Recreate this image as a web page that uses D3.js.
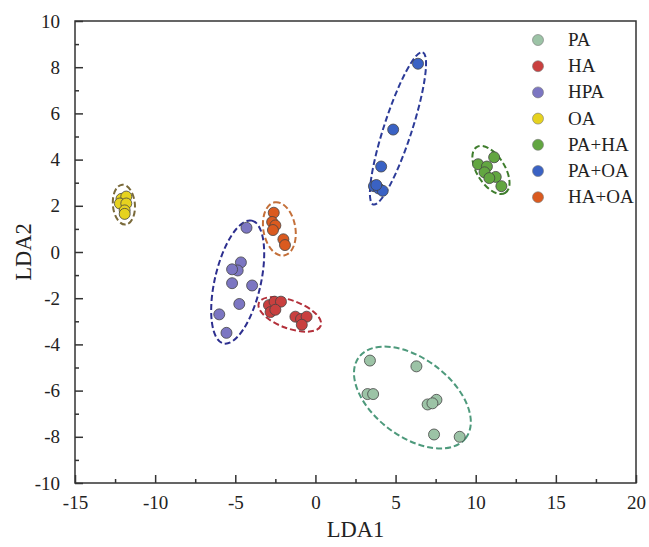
<!DOCTYPE html>
<html lang="en">
<head>
<meta charset="UTF-8"/>
<title>LDA scatter</title>
<script src="https://d3js.org/d3.v7.min.js"></script>
<style>
  body { margin: 0; background: #fff; }
  text { font-family: "Liberation Serif", "Times New Roman", serif; fill: #222; }
</style>
</head>
<body>
<script>
// ***data***
var groups = ["PA", "HA", "HPA", "OA", "PA+HA", "PA+OA", "HA+OA"];
var colors = ["#9cc3a6", "#c9403f", "#7c76c2", "#e6d21f", "#62a641", "#3a62c4", "#da5a1f"];
var ringColors = ["#4e9a7c", "#b3303a", "#2d2f8f", "#7a6a3a", "#3f7d2d", "#2c3b98", "#c4703a"];

var lda1 = [
  [3.4, 6.3, 3.25, 3.6, 7.0, 7.55, 7.3, 7.4, 9.0],
  [-2.9, -2.55, -2.15, -2.8, -2.5, -1.25, -0.9, -0.55, -0.85],
  [-4.3, -4.65, -4.85, -5.2, -5.2, -3.95, -4.75, -6.0, -5.55],
  [-12.1, -11.8, -12.2, -11.8, -11.9, -11.9],
  [11.15, 10.15, 10.7, 10.55, 11.25, 10.85, 11.6],
  [6.4, 4.85, 4.1, 3.65, 3.95, 4.2, 3.8],
  [-2.6, -2.7, -2.5, -2.65, -2.0, -1.9]
];
var lda2 = [
  [-4.7, -4.95, -6.15, -6.15, -6.6, -6.4, -6.55, -7.9, -8.0],
  [-2.3, -2.15, -2.15, -2.6, -2.5, -2.8, -2.9, -2.8, -3.15],
  [1.05, -0.45, -0.8, -0.75, -1.35, -1.45, -2.25, -2.7, -3.5],
  [2.3, 2.4, 2.1, 2.1, 1.8, 1.65],
  [4.1, 3.8, 3.7, 3.45, 3.25, 3.2, 2.85],
  [8.15, 5.3, 3.7, 2.85, 2.75, 2.65, 2.9],
  [1.7, 1.3, 1.15, 0.95, 0.55, 0.3]
];

// confidence ellipses: centre (LDA1, LDA2), half axes in px, rotation in degrees
var ellCx = [6.05, -1.6, -4.85, -11.95, 10.95, 5.15, -2.25];
var ellCy = [-6.3, -2.7, -1.3, 2.05, 3.55, 5.35, 1.0];
var ellA = [67, 33, 63, 20, 27, 80, 27];
var ellB = [39, 14, 23, 11, 14, 14, 16];
var ellAngle = [37, 20, -77, 85, 58, -72, -100];

var xTicks = [-15, -10, -5, 0, 5, 10, 15, 20];
var yTicks = [-10, -8, -6, -4, -2, 0, 2, 4, 6, 8, 10];

// ***layout***
var w = 649, h = 547;
var margin = {top: 21, right: 13, bottom: 64, left: 75};

var xScale = d3.scaleLinear().domain([-15, 20]).range([margin.left, w - margin.right]);
var yScale = d3.scaleLinear().domain([-10, 10]).range([h - margin.bottom, margin.top]);

var svg = d3.select("body").append("svg")
  .attr("width", w)
  .attr("height", h);

// frame
svg.append("rect")
  .attr("x", margin.left)
  .attr("y", margin.top)
  .attr("width", w - margin.left - margin.right)
  .attr("height", h - margin.top - margin.bottom)
  .attr("fill", "none")
  .attr("stroke", "#333")
  .attr("stroke-width", 1.5);

// plain hyphen instead of unicode minus
var fmt = function(d) { return String(d); };

// axes, ticks pointing inward
var xAxis = svg.append("g")
  .attr("transform", "translate(0," + (h - margin.bottom) + ")")
  .call(d3.axisBottom(xScale).tickValues(xTicks).tickSize(-8).tickPadding(13).tickFormat(fmt));
var xMinor = svg.append("g")
  .attr("transform", "translate(0," + (h - margin.bottom) + ")")
  .call(d3.axisBottom(xScale).tickValues(d3.range(-12.5, 20, 5)).tickSize(-4).tickFormat(""));

var yAxis = svg.append("g")
  .attr("transform", "translate(" + margin.left + ",0)")
  .call(d3.axisLeft(yScale).tickValues(yTicks).tickSize(-8).tickPadding(15).tickFormat(fmt));
var yMinor = svg.append("g")
  .attr("transform", "translate(" + margin.left + ",0)")
  .call(d3.axisLeft(yScale).tickValues(d3.range(-9, 10, 2)).tickSize(-4).tickFormat(""));

[xAxis, xMinor, yAxis, yMinor].forEach(function(g) {
  g.select(".domain").remove();
  g.selectAll("line").attr("stroke", "#333").attr("stroke-width", 1.5);
  g.selectAll("text")
    .style("font-family", "'Liberation Serif', 'Times New Roman', serif")
    .style("font-size", "19px")
    .attr("fill", "#222");
});

// axis titles
svg.append("text")
  .attr("x", (margin.left + w - margin.right) / 2)
  .attr("y", 537)
  .attr("text-anchor", "middle")
  .style("font-size", "22.5px")
  .text("LDA1");

svg.append("text")
  .attr("transform", "translate(31," + ((margin.top + h - margin.bottom) / 2) + ") rotate(-90)")
  .attr("text-anchor", "middle")
  .style("font-size", "22.5px")
  .text("LDA2");

// ellipses
groups.forEach(function(g, i) {
  svg.append("ellipse")
    .attr("transform", "translate(" + xScale(ellCx[i]) + "," + yScale(ellCy[i]) + ") rotate(" + ellAngle[i] + ")")
    .attr("rx", ellA[i])
    .attr("ry", ellB[i])
    .attr("fill", "none")
    .attr("stroke", ringColors[i])
    .attr("stroke-width", 2)
    .attr("stroke-dasharray", "6,3");
});

// points
groups.forEach(function(g, i) {
  var pts = lda1[i].map(function(d, j) { return [d, lda2[i][j]]; });
  svg.append("g").selectAll("circle")
    .data(pts)
    .enter()
    .append("circle")
    .attr("cx", function(d) { return xScale(d[0]); })
    .attr("cy", function(d) { return yScale(d[1]); })
    .attr("r", 5.5)
    .attr("fill", colors[i])
    .attr("stroke", "#444")
    .attr("stroke-width", 0.8);
});

// legend
var legend = svg.append("g").attr("transform", "translate(538,40)");
groups.forEach(function(g, i) {
  var row = legend.append("g").attr("transform", "translate(0," + (i * 26.2) + ")");
  row.append("circle")
    .attr("r", 5.5)
    .attr("fill", colors[i])
    .attr("stroke", "#777")
    .attr("stroke-width", 0.6);
  row.append("text")
    .attr("x", 30)
    .attr("y", 6)
    .style("font-size", "19px")
    .text(g);
});
</script>
</body>
</html>
